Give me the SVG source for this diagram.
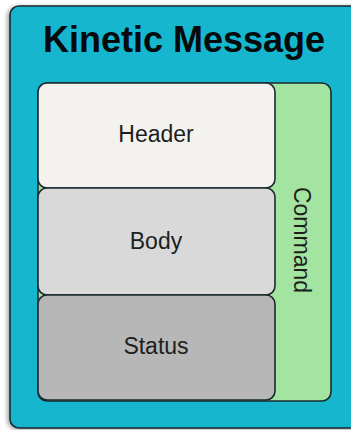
<svg xmlns="http://www.w3.org/2000/svg" width="351" height="430" viewBox="0 0 351 430">
  <defs>
    <filter id="shadow" x="-10%" y="-10%" width="120%" height="120%">
      <feDropShadow dx="-2" dy="1" stdDeviation="2" flood-color="#000" flood-opacity="0.35"/>
    </filter>
  </defs>
  <style>
    .box { stroke: #1b2a2e; stroke-width: 1.6; }
    .lbl { font-family: "Liberation Sans", Arial, Helvetica, sans-serif; font-size: 23px; fill: #1e1e1e; text-anchor: middle; }
    .title { font-family: "Liberation Sans", Arial, Helvetica, sans-serif; font-size: 36px; font-weight: bold; fill: #050a0c; text-anchor: middle; }
  </style>
  <rect x="0" y="0" width="351" height="430" fill="#ffffff"/>
  <g id="kinetic-message">
    <rect class="box" x="10" y="6" width="360" height="422" rx="9" fill="#16b7ce" filter="url(#shadow)"/>
    <text class="title" x="184" y="52">Kinetic Message</text>
  </g>
  <g id="command">
    <rect class="box" x="38" y="83" width="293" height="318" rx="9" fill="#a2e4a0"/>
    <text class="lbl" transform="translate(294,240) rotate(90)" x="0" y="0">Command</text>
  </g>
  <g id="header">
    <rect class="box" x="38" y="83" width="237" height="105" rx="9" fill="#f4f2ee"/>
    <text class="lbl" x="156" y="142">Header</text>
  </g>
  <g id="body">
    <rect class="box" x="38" y="188" width="237" height="107" rx="9" fill="#d9d9d9"/>
    <text class="lbl" x="156" y="249">Body</text>
  </g>
  <g id="status">
    <rect class="box" x="38" y="295" width="237" height="105" rx="9" fill="#b7b7b7"/>
    <text class="lbl" x="156" y="354">Status</text>
  </g>
  <g id="connectors"></g>
</svg>
